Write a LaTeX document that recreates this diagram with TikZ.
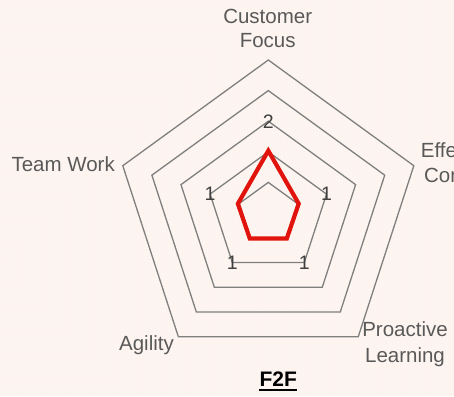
\documentclass[tikz,border=0pt]{standalone}
\usepackage{fontspec}
\setmainfont{Liberation Sans}
\usetikzlibrary{patterns,calc}
\definecolor{bgc}{HTML}{FDF4EF}
\definecolor{ringc}{HTML}{7F7F7F}
\definecolor{labc}{HTML}{595959}
\definecolor{numc}{HTML}{404040}
\definecolor{redc}{HTML}{E0140C}
\tikzset{
  ring/.style={draw=ringc, line width=1.3pt, line join=miter},
  score/.style={draw=redc, line width=4.2pt, line join=miter},
  catlab/.style={text=labc, inner sep=0pt, font=\fontsize{20.5}{24}\selectfont, anchor=base},
  numlab/.style={text=numc, inner sep=0pt, font=\fontsize{19.5}{22}\selectfont, anchor=center},
}
\begin{document}
\begin{tikzpicture}[x=1pt,y=1pt]
\useasboundingbox (0,0) rectangle (454,396);
\fill[bgc] (0,0) rectangle (454,396);
\fill[pattern=dots, pattern color=white] (0,0) rectangle (454,396);
\coordinate (c) at (268.3,183);
\foreach \k in {1,...,5}{
  \pgfmathsetmacro{\r}{30.6*\k}
  \draw[ring] ($(c)+(90:\r)$) -- ($(c)+(18:\r)$) -- ($(c)+(-54:\r)$) -- ($(c)+(-126:\r)$) -- ($(c)+(162:\r)$) -- cycle;
}
\draw[score] ($(c)+(90:62.3)$) -- ($(c)+(17:31.8)$) -- ($(c)+(-54:31.5)$) -- ($(c)+(-126:31.5)$) -- ($(c)+(163:31.8)$) -- cycle;
% axis numbers
\node[numlab] (n2) at ($(c)+(90:91.8)$) {2};
\node[numlab] (n1a) at ($(c)+(162:61.2)$) {1};
\node[numlab] (n1b) at ($(c)+(18:61.2)$) {1};
\node[numlab] (n1c) at ($(c)+(-126:61.2)$) {1};
\node[numlab] (n1d) at ($(c)+(-54:61.2)$) {1};
% category labels
\node[catlab] (cf1) at (267.7,372) {Customer};
\node[catlab] (cf2) at (267.7,348.3) {Focus};
\node[catlab, anchor=base east] (tw) at (115,224.3) {Team Work};
\node[catlab] (ec1) at (460,238.7) {Effective};
\node[catlab] (ec2) at (460,213.3) {Content};
\node[catlab] (ag) at (146.5,46) {Agility};
\node[catlab] (pl1) at (405,59.3) {Proactive};
\node[catlab] (pl2) at (405,33.3) {Learning};
% title
\node[inner sep=0pt, anchor=base, font=\fontsize{21}{24}\selectfont\bfseries] (t) at (278.3,10) {F2F};
\draw[line width=1.8pt] ([yshift=-4pt]t.base west) -- ([yshift=-4pt]t.base east);
\end{tikzpicture}
\end{document}
